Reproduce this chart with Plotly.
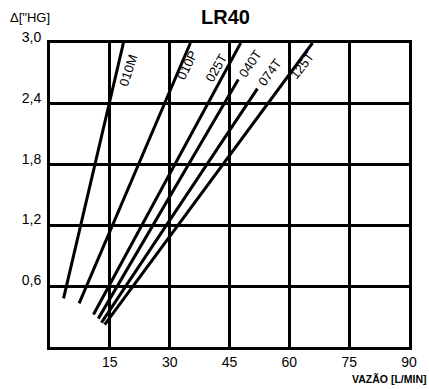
import plotly.graph_objects as go

# Pressure-drop curves of the LR40 filter elements: two end points per element
elements = ["010M", "010P", "025T", "040T", "074T", "125T"]
flow_start = [3.4, 7.3, 10.9, 12.1, 12.9, 13.7]      # L/min
flow_end = [18.4, 35.2, 47.8, 47.2, 52.0, 65.8]       # L/min
drop_start = [0.48, 0.43, 0.32, 0.28, 0.24, 0.22]     # "Hg
drop_end = [3.0, 3.0, 3.0, 2.64, 2.55, 3.0]           # "Hg

# Where each element's name sits, and its tilt
label_x = [19.6, 34.3, 41.7, 50.2, 55.1, 63.2]
label_y = [2.73, 2.78, 2.76, 2.80, 2.71, 2.78]
label_angle = [-72, -64, -60, -56, -54, -52]

x_ticks = [15, 30, 45, 60, 75, 90]
y_ticks = [0.6, 1.2, 1.8, 2.4, 3.0]
y_tick_text = ["0,6", "1,2", "1,8", "2,4", "3,0"]

FONT = "Liberation Sans, Arial, sans-serif"

fig = go.Figure()
for name, x0, x1, y0, y1 in zip(elements, flow_start, flow_end, drop_start, drop_end):
    fig.add_trace(go.Scatter(
        x=[x0, x1], y=[y0, y1], mode="lines", name=name,
        line=dict(color="black", width=3), hoverinfo="name",
    ))

for name, lx, ly, ang in zip(elements, label_x, label_y, label_angle):
    fig.add_annotation(
        x=lx, y=ly, text=name, showarrow=False, textangle=ang,
        font=dict(family=FONT, size=13, color="black"),
    )

fig.add_annotation(
    xref="paper", yref="paper", x=0.49, y=1.0, yshift=26, yanchor="middle",
    text="<b>LR40</b>", showarrow=False,
    font=dict(family=FONT, size=20, color="black"),
)
fig.add_annotation(
    xref="paper", yref="paper", x=-0.118, y=1.0, yshift=26, xanchor="left",
    yanchor="middle",
    text="Δ[\"HG]", showarrow=False,
    font=dict(family=FONT, size=13, color="black"),
)
fig.add_annotation(
    xref="paper", yref="paper", x=0.835, y=0, yshift=-32, xanchor="left",
    yanchor="middle",
    text="<b>VAZÃO [L/MIN]</b>", showarrow=False,
    font=dict(family=FONT, size=10.5, color="black"),
)

fig.update_xaxes(
    range=[0, 90], tickvals=x_ticks, ticktext=[str(v) for v in x_ticks],
    showgrid=True, gridcolor="black", gridwidth=3,
    showline=True, linecolor="black", linewidth=3, mirror=True,
    zeroline=False, ticks="", ticklabelstandoff=0,
    tickfont=dict(family=FONT, size=14, color="black"),
)
fig.update_yaxes(
    range=[0, 3], tickvals=y_ticks, ticktext=y_tick_text,
    showgrid=True, gridcolor="black", gridwidth=3,
    showline=True, linecolor="black", linewidth=3, mirror=True,
    zeroline=False, ticks="", ticklabelstandoff=3, ticklabelshift=-6,
    tickfont=dict(family=FONT, size=14, color="black"),
)
fig.update_layout(
    width=429, height=389,
    margin=dict(l=50, r=12, t=43, b=42),
    paper_bgcolor="white", plot_bgcolor="white",
    showlegend=False,
)

fig.write_html("out.html")
